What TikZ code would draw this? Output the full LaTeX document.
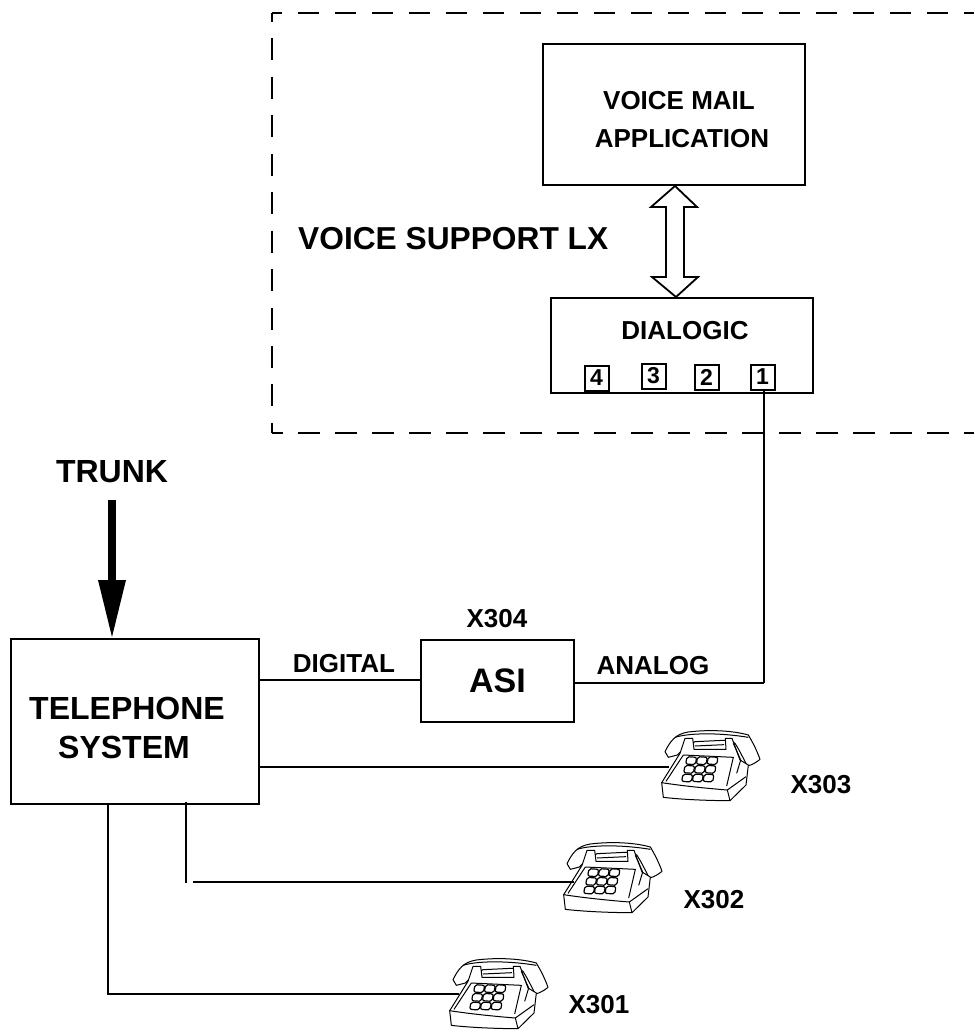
\documentclass[tikz,border=0pt]{standalone}
\usepackage{fontspec}
\setmainfont{Liberation Sans}
\tikzset{
  box/.style={draw=black,line width=2pt,fill=white,inner sep=0pt},
  conn/.style={draw=black,line width=2pt},
  lbl/.style={font=\bfseries\fontsize{26}{30}\selectfont,text=black,inner sep=0pt,anchor=center},
  biglbl/.style={font=\bfseries\fontsize{32}{36}\selectfont,text=black,inner sep=0pt,anchor=center},
  port/.style={draw=black,line width=2pt,fill=white,inner sep=0pt,minimum width=24pt,minimum height=25pt,font=\bfseries\fontsize{23}{26}\selectfont},
  ph/.style={line width=1pt,draw=black,fill=white,line join=round},
  phone/.pic={
    \begin{scope}[scale=1/3]
      % handset
      \draw[ph] (135,125) .. controls (150,95) and (165,72) .. (205,66)
        .. controls (270,58) and (340,62) .. (385,75)
        .. controls (400,100) and (412,125) .. (420,148)
        .. controls (408,158) and (395,165) .. (382,168)
        .. controls (370,145) and (358,120) .. (345,100)
        -- (330,90) -- (225,95) -- (195,112) -- (172,135) -- (145,142) -- cycle;
      \draw[ph,fill=none] (165,82) .. controls (210,68) and (300,68) .. (385,82);
      % body
      \draw[ph] (125,218) -- (180,130) -- (195,85) -- (218,85) -- (222,118) -- (318,118) -- (316,85) -- (336,85)
        -- (360,150) -- (385,165) -- (378,225) -- (330,272)
        .. controls (260,272) and (180,268) .. (130,262) -- cycle;
      \draw[ph,fill=none] (125,218) .. controls (190,228) and (260,235) .. (322,240) -- (330,272);
      \draw[ph,fill=none] (322,240) -- (378,200);
      \draw[ph,fill=none] (138,214) -- (190,135) -- (340,142) -- (320,228);
      \draw[ph,fill=none] (225,108) -- (312,104);
      \draw[ph,fill=none] (340,100) -- (362,150) -- (350,190);
      % keypad
      \foreach \r in {0,1,2}{
        \foreach \c in {0,1,2}{
          \draw[ph,line width=1.2pt,fill=white,rounded corners=2pt]
            ({201+\c*32-\r*6},{140+\r*26}) -- ++(29,2) -- ++(-4,22) -- ++(-29,-2) -- cycle;
        }
      }
    \end{scope}
  }
}
\begin{document}
\begin{tikzpicture}[x=1pt,y=-1pt]
\useasboundingbox (0,0) rectangle (974,1032);
% dashed region
\coordinate (dtr) at (974,13);
\coordinate (dtl) at (272,13);
\coordinate (dbl) at (272,433);
\coordinate (dbr) at (974,433);
\draw[line width=1.8pt,dash pattern=on 21.5pt off 15.5pt,dash phase=11.5pt] (dtl) -- (dtr);
\draw[line width=1.8pt,dash pattern=on 22pt off 16.44pt,dash phase=13pt] (dtl) -- (dbl);
\draw[line width=1.8pt,dash pattern=on 22pt off 15pt,dash phase=11pt] (dbl) -- (dbr);

% boxes
\node[box,minimum width=262pt,minimum height=141pt] (vm) at (674,114.5) {};
\node[lbl] (vmt1) at (679,101) {VOICE MAIL};
\node[lbl] (vmt2) at (682,139) {APPLICATION};
\node[biglbl,anchor=west,font=\bfseries\fontsize{31.7}{36}\selectfont] (vs) at (298,239) {VOICE SUPPORT LX};
\node[box,minimum width=262pt,minimum height=95pt] (dl) at (682,345.5) {};
\node[lbl] (dlt) at (685,331) {DIALOGIC};
\node[port] (p4) at (596.5,378) {4};
\node[port] (p3) at (653.5,376) {3};
\node[port] (p2) at (706.5,377) {2};
\node[port] (p1) at (762.5,377) {1};

% double arrow
\draw[line width=1.8pt,fill=white,line join=miter] (675,186) -- (697,207) -- (684,207) -- (684,277) -- (698,277)
  -- (676,297) -- (652,277) -- (666,277) -- (666,207) -- (651,207) -- cycle;

% trunk
\node[biglbl] (tr) at (112,472) {TRUNK};
\node[box,minimum width=248pt,minimum height=165pt] (ts) at (135,721.5) {};
\node[biglbl] (tst1) at (127,708) {TELEPHONE};
\node[biglbl] (tst2) at (124,747) {SYSTEM};
\coordinate (trs) at (112,500);
\coordinate (trm) at (112,580);
\coordinate (tre) at (112,637);
\draw[black,line width=8pt] (trs) -- (trm);
\fill[black] (98,580) -- (126,580) -- (tre) -- cycle;

% ASI
\node[box,minimum width=153pt,minimum height=82pt] (asi) at (497.5,681) {};
\node[font=\bfseries\fontsize{34}{38}\selectfont,inner sep=0pt] (asit) at (497.5,681) {ASI};
\node[lbl] (x304) at (497,619) {X304};
\node[lbl] (dig) at (344,664) {DIGITAL};
\node[lbl] (ana) at (653,666) {ANALOG};

% connectors
\draw[conn] (ts.east |- 0,680) -- (asi.west |- 0,680);
\coordinate (cor) at (764,683);
\draw[conn] (asi.east |- cor) -- (cor);
\draw[conn] (p1.south -| cor) -- (cor);

% phones
\pic at (620,710) {phone};
\pic at (522,822) {phone};
\pic at (408,938) {phone};
\node[inner sep=0pt,minimum size=2pt] (ph3) at (669,767) {};
\node[inner sep=0pt,minimum size=2pt] (ph2) at (574,882) {};
\node[inner sep=0pt,minimum size=2pt] (ph1) at (459,994) {};
\draw[conn] (ts.east |- ph3) -- (ph3.center);
\coordinate (c2a) at (186,882);
\coordinate (c2b) at (193,882);
\draw[conn] (186,802) -- (c2a |- 0,883);
\draw[conn] (c2b) -- (ph2.center);
\coordinate (c1) at (108,994);
\draw[conn] (108,804) -- (c1) -- (ph1.center);
\node[lbl] (x303) at (821,785) {X303};
\node[lbl] (x302) at (714,900) {X302};
\node[lbl] (x301) at (599,1005) {X301};
\end{tikzpicture}
\end{document}
